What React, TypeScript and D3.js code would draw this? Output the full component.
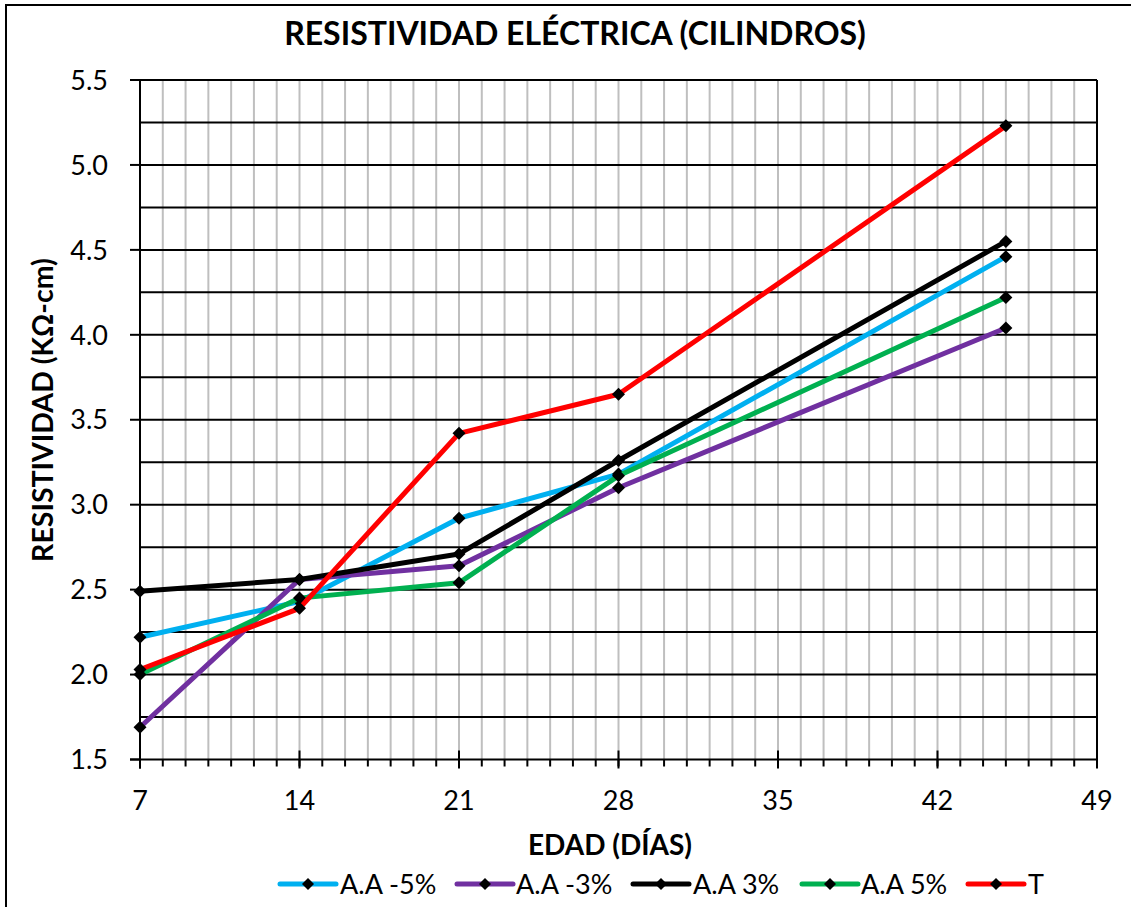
import React from "react";
import * as d3 from "d3";

const days = [7, 14, 21, 28, 45];
const seriesNames = ["A.A -5%", "A.A -3%", "A.A 3%", "A.A 5%", "T"];
const seriesColors = ["#00B0F0", "#7030A0", "#000000", "#00B050", "#FF0000"];
const aaMinus5 = [2.22, 2.43, 2.92, 3.18, 4.46];
const aaMinus3 = [1.69, 2.56, 2.64, 3.1, 4.04];
const aaPlus3 = [2.49, 2.56, 2.71, 3.26, 4.55];
const aaPlus5 = [2.0, 2.45, 2.54, 3.17, 4.22];
const control = [2.03, 2.39, 3.42, 3.65, 5.23];
const seriesValues = [aaMinus5, aaMinus3, aaPlus3, aaPlus5, control];
const xTicks = [7, 14, 21, 28, 35, 42, 49];
const yTicks = [1.5, 2.0, 2.5, 3.0, 3.5, 4.0, 4.5, 5.0, 5.5];

const W = 1131;
const H = 907;
const left = 140;
const right = 1097;
const top = 80;
const bottom = 759.5;
const font = "Lato, 'Open Sans', sans-serif";

export default function App() {
  const x = d3.scaleLinear().domain([7, 49]).range([left, right]);
  const y = d3.scaleLinear().domain([1.5, 5.5]).range([bottom, top]);
  const line = d3
    .line<[number, number]>()
    .x((d) => x(d[0]))
    .y((d) => y(d[1]));

  const dayGrid = d3.range(8, 50);
  const quarterGrid = d3.range(1.75, 5.5, 0.25);
  const diamond = (cx: number, cy: number, r: number) =>
    `M${cx},${cy - r}L${cx + r},${cy}L${cx},${cy + r}L${cx - r},${cy}Z`;

  const legendItems = [
    { lx: 280, tx: 340 },
    { lx: 457, tx: 516 },
    { lx: 633, tx: 693 },
    { lx: 802, tx: 861 },
    { lx: 968, tx: 1028 },
  ];
  const legendY = 884;

  return (
    <svg
      width={W}
      height={H}
      style={{ position: "absolute", left: 0, top: 0, background: "#fff" }}
    >
      <rect x={6} y={5} width={W + 20} height={H + 20} fill="#fff" stroke="#000" strokeWidth={2} />

      {/* vertical day gridlines */}
      {dayGrid.map((d) => (
        <line key={`vg${d}`} x1={x(d)} x2={x(d)} y1={top} y2={bottom} stroke="#BFBFBF" strokeWidth={2} />
      ))}
      {/* horizontal gridlines */}
      {quarterGrid.map((v) => (
        <line key={`hg${v}`} x1={left} x2={right} y1={y(v)} y2={y(v)} stroke="#000" strokeWidth={2} />
      ))}

      {/* plot frame */}
      <line x1={left} x2={right} y1={top} y2={top} stroke="#000" strokeWidth={2} />
      <line x1={right} x2={right} y1={top} y2={bottom} stroke="#000" strokeWidth={2} />
      <line x1={left} x2={left} y1={top} y2={bottom + 9} stroke="#000" strokeWidth={2} />
      <line x1={left - 10} x2={right} y1={bottom} y2={bottom} stroke="#000" strokeWidth={2} />

      {/* y ticks */}
      {yTicks.map((v) => (
        <g key={`yt${v}`}>
          <line x1={left - 10} x2={left} y1={y(v)} y2={y(v)} stroke="#000" strokeWidth={2} />
          <text x={108} y={y(v)} dy="0.36em" textAnchor="end" fontFamily={font} fontSize={27} fill="#000">
            {v.toFixed(1)}
          </text>
        </g>
      ))}

      {/* x ticks */}
      {d3.range(8, 50).map((d) => (
        <line key={`xm${d}`} x1={x(d)} x2={x(d)} y1={bottom} y2={bottom + 7} stroke="#000" strokeWidth={2} />
      ))}
      {xTicks.map((d) => (
        <g key={`xt${d}`}>
          <line x1={x(d)} x2={x(d)} y1={bottom - 9} y2={bottom + 9} stroke="#000" strokeWidth={2} />
          <text x={x(d)} y={810} textAnchor="middle" fontFamily={font} fontSize={27} fill="#000">
            {d}
          </text>
        </g>
      ))}

      {/* series */}
      {seriesValues.map((vals, i) => {
        const pts = days.map((d, j) => [d, vals[j]] as [number, number]);
        return (
          <g key={`s${i}`}>
            <path d={line(pts) || ""} fill="none" stroke={seriesColors[i]} strokeWidth={5} strokeLinejoin="round" />
            {pts.map((p, j) => (
              <path key={j} d={diamond(x(p[0]), y(p[1]), 6.5)} fill="#000" />
            ))}
          </g>
        );
      })}

      {/* titles */}
      <text x={575} y={45} textAnchor="middle" fontFamily={font} fontWeight={700} fontSize={32} fill="#000">
        RESISTIVIDAD ELÉCTRICA (CILINDROS)
      </text>
      <text x={610} y={855} textAnchor="middle" fontFamily={font} fontWeight={700} fontSize={28} fill="#000">
        EDAD (DÍAS)
      </text>
      <text
        transform={`translate(53,410) rotate(-90)`}
        textAnchor="middle"
        fontFamily={font}
        fontWeight={700}
        fontSize={28.5}
        fill="#000"
      >
        RESISTIVIDAD (KΩ-cm)
      </text>

      {/* legend */}
      {legendItems.map((it, i) => (
        <g key={`lg${i}`}>
          <line x1={it.lx} x2={it.lx + 56} y1={legendY} y2={legendY} stroke={seriesColors[i]} strokeWidth={5} strokeLinecap="round" />
          <path d={diamond(it.lx + 28, legendY, 6)} fill="#000" />
          <text x={it.tx} y={legendY} dy="0.36em" fontFamily={font} fontSize={27} fill="#000">
            {seriesNames[i]}
          </text>
        </g>
      ))}
    </svg>
  );
}
